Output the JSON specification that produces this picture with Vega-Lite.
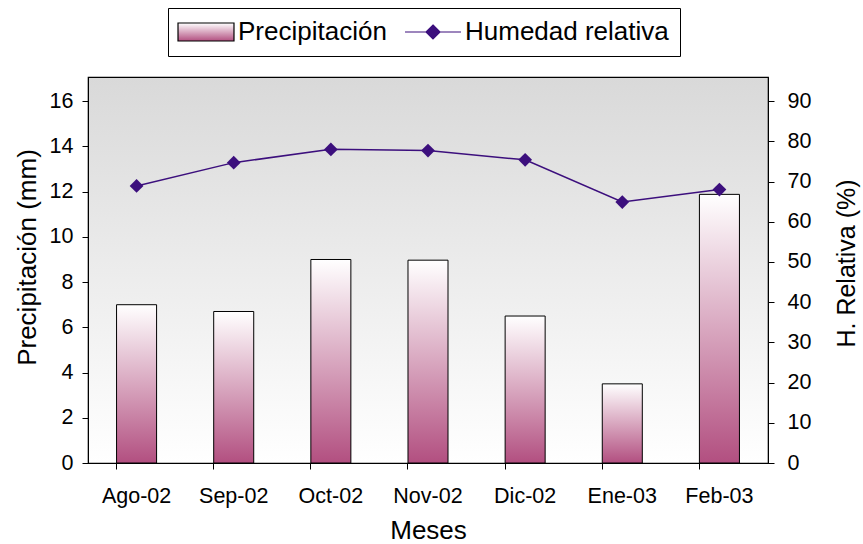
{
  "$schema": "https://vega.github.io/schema/vega-lite/v6.json",
  "width": 680,
  "height": 386,
  "autosize": {"type": "none"},
  "padding": {"left": 88, "top": 77, "right": 95, "bottom": 81},
  "background": "white",
  "config": {
    "font": "Liberation Sans",
    "view": {
      "stroke": "black",
      "strokeWidth": 1.2,
      "fill": {"gradient": "linear", "x1": 0, "y1": 0, "x2": 0, "y2": 1, "stops": [{"offset": 0, "color": "#d9d9d9"}, {"offset": 1, "color": "#ffffff"}]}
    },
    "axis": {
      "titleFontWeight": "normal",
      "titleColor": "black",
      "labelColor": "black",
      "domainColor": "black",
      "tickColor": "black",
      "grid": false
    },
    "legend": {
      "title": null,
      "orient": "none",
      "legendX": 80,
      "legendY": -69,
      "direction": "horizontal",
      "strokeColor": "black",
      "fillColor": "white",
      "padding": 11,
      "labelFontSize": 26,
      "labelColor": "black",
      "labelFont": "Liberation Sans",
      "labelLimit": 400,
      "symbolSize": 324,
      "symbolOffset": 14,
      "labelOffset": 19,
      "columnPadding": 15,
      "symbolOpacity": 1,
      "symbolStrokeWidth": 1.2
    }
  },
  "data": {
    "values": [
      {"mes": "Ago-02", "precip": 7.0, "hr": 68.9},
      {"mes": "Sep-02", "precip": 6.7, "hr": 74.7},
      {"mes": "Oct-02", "precip": 9.0, "hr": 78.0},
      {"mes": "Nov-02", "precip": 8.97, "hr": 77.7},
      {"mes": "Dic-02", "precip": 6.5, "hr": 75.4},
      {"mes": "Ene-03", "precip": 3.5, "hr": 64.9},
      {"mes": "Feb-03", "precip": 11.88, "hr": 68.0}
    ]
  },
  "encoding": {
    "x": {
      "field": "mes",
      "type": "nominal",
      "sort": null,
      "scale": {"paddingInner": 0.588, "paddingOuter": 0.294},
      "axis": {
        "title": "Meses",
        "titleFontSize": 26,
        "titlePadding": 11,
        "labelFontSize": 21.5,
        "labelAngle": 0,
        "labelPadding": 16,
        "tickSize": 6,
        "bandPosition": 0,
        "encode": {"ticks": {"y": {"value": -6}, "y2": {"value": 6}}}
      }
    }
  },
  "layer": [
    {
      "mark": {
        "type": "bar",
        "fill": {"gradient": "linear", "x1": 0, "y1": 0, "x2": 0, "y2": 1, "stops": [{"offset": 0, "color": "#ffffff"}, {"offset": 1, "color": "#b24f80"}]},
        "stroke": "black",
        "strokeWidth": 1
      },
      "encoding": {
        "y": {
          "field": "precip",
          "type": "quantitative",
          "scale": {"domain": [0, 17.07], "nice": false},
          "axis": {
            "title": "Precipitación (mm)",
            "titleFontSize": 26,
            "titlePadding": 9,
            "titleY": 180,
            "labelFontSize": 21.5,
            "labelPadding": 9,
            "tickSize": 6,
            "values": [0, 2, 4, 6, 8, 10, 12, 14, 16],
            "format": "d",
            "encode": {"ticks": {"x": {"value": 6}, "x2": {"value": -6}}}
          }
        }
      }
    },
    {
      "mark": {
        "type": "line",
        "color": "#3c0f7d",
        "strokeWidth": 1.5,
        "point": {"shape": "diamond", "size": 190, "filled": true, "color": "#3c0f7d"}
      },
      "encoding": {
        "y": {
          "field": "hr",
          "type": "quantitative",
          "scale": {"domain": [0, 96], "nice": false},
          "axis": {
            "orient": "right",
            "title": "H. Relativa (%)",
            "titleAngle": 270,
            "titleBaseline": "top",
            "titleFontSize": 25,
            "titlePadding": 24,
            "titleY": 186,
            "labelFontSize": 21.5,
            "labelPadding": 13,
            "tickSize": 6,
            "values": [0, 10, 20, 30, 40, 50, 60, 70, 80, 90],
            "encode": {"ticks": {"x": {"value": -7}, "x2": {"value": 7}}}
          }
        }
      }
    },
    {
      "mark": {"type": "point", "filled": true, "opacity": 0},
      "encoding": {
        "shape": {
          "datum": "Humedad relativa",
          "type": "nominal",
          "scale": {"domain": ["Precipitación", "Humedad relativa"], "range": ["M-3.11,-1H3.11V1H-3.11Z", "M-3.11,0H3.11M0,-0.78L0.78,0L0,0.78L-0.78,0Z"]}
        },
        "fill": {
          "datum": "Humedad relativa",
          "type": "nominal",
          "scale": {"domain": ["Precipitación", "Humedad relativa"], "range": [{"expr": "{gradient: 'linear', x1: 0, y1: 0, x2: 0, y2: 1, stops: [{offset: 0, color: '#ffffff'}, {offset: 1, color: '#b24f80'}]}"}, "#3c0f7d"]}
        },
        "stroke": {
          "datum": "Humedad relativa",
          "type": "nominal",
          "scale": {"domain": ["Precipitación", "Humedad relativa"], "range": ["black", "#3c0f7d"]}
        }
      }
    }
  ],
  "resolve": {"scale": {"y": "independent"}}
}
